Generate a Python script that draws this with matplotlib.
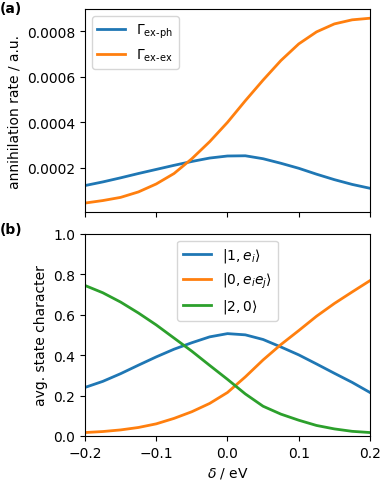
import matplotlib
matplotlib.use("Agg")
import matplotlib.pyplot as plt

delta = [-0.2, -0.175, -0.15, -0.125, -0.1, -0.075, -0.05, -0.025, 0.0,
         0.025, 0.05, 0.075, 0.1, 0.125, 0.15, 0.175, 0.2]

# panel (a): annihilation rates
gamma_ex_ph = [0.000122, 0.000138, 0.000156, 0.000175, 0.000193, 0.000211,
               0.000228, 0.000243, 0.000252, 0.000253, 0.000240, 0.000220,
               0.000198, 0.000172, 0.000148, 0.000127, 0.000110]
gamma_ex_ex = [0.000045, 0.000056, 0.000070, 0.000094, 0.000129, 0.000175,
               0.000240, 0.000315, 0.000400, 0.000495, 0.000586, 0.000672,
               0.000745, 0.000798, 0.000833, 0.000851, 0.000858]

# panel (b): average state character
char_1e = [0.240, 0.270, 0.308, 0.350, 0.391, 0.429, 0.461, 0.490, 0.506,
           0.500, 0.477, 0.440, 0.401, 0.356, 0.310, 0.265, 0.215]
char_0ee = [0.017, 0.022, 0.030, 0.042, 0.060, 0.087, 0.120, 0.161, 0.215,
            0.292, 0.376, 0.452, 0.521, 0.592, 0.655, 0.712, 0.768]
char_20 = [0.744, 0.708, 0.662, 0.608, 0.549, 0.484, 0.419, 0.349, 0.280,
           0.208, 0.147, 0.108, 0.078, 0.052, 0.035, 0.023, 0.017]

xticks = [-0.2, -0.1, 0.0, 0.1, 0.2]
yticks_b = [0.0, 0.2, 0.4, 0.6, 0.8, 1.0]

fig = plt.figure(figsize=(3.87, 4.85), dpi=100)
ax1 = fig.add_axes([0.2196, 0.5602, 0.7364, 0.4192])
ax2 = fig.add_axes([0.2196, 0.0990, 0.7364, 0.4171])

blue, orange, green = "#1f77b4", "#ff7f0e", "#2ca02c"
lw = 2.0

ax1.plot(delta, gamma_ex_ph, color=blue, lw=lw, label=r"$\Gamma_{\mathrm{ex\text{-}ph}}$")
ax1.plot(delta, gamma_ex_ex, color=orange, lw=lw, label=r"$\Gamma_{\mathrm{ex\text{-}ex}}$")
ax1.set_xlim(-0.2, 0.2)
ax1.set_xticks(xticks)
ax1.set_xticklabels([])
ax1.set_ylabel("annihilation rate / a.u.")
ax1.legend(loc="upper left")

ax2.plot(delta, char_1e, color=blue, lw=lw, label=r"$|1, e_i\rangle$")
ax2.plot(delta, char_0ee, color=orange, lw=lw, label=r"$|0, e_ie_j\rangle$")
ax2.plot(delta, char_20, color=green, lw=lw, label=r"$|2, 0\rangle$")
ax2.set_xlim(-0.2, 0.2)
ax2.set_ylim(0, 1)
ax2.set_xticks(xticks)
ax2.set_yticks(yticks_b)
ax2.set_xlabel(r"$\delta$ / eV")
ax2.set_ylabel("avg. state character")
ax2.legend(loc="upper center")

fig.text(0.0, 0.995, "(a)", fontweight="bold", fontsize=10, va="top", ha="left")
fig.text(0.0, 0.54, "(b)", fontweight="bold", fontsize=10, va="top", ha="left")

fig.savefig("out.png", dpi=100)
